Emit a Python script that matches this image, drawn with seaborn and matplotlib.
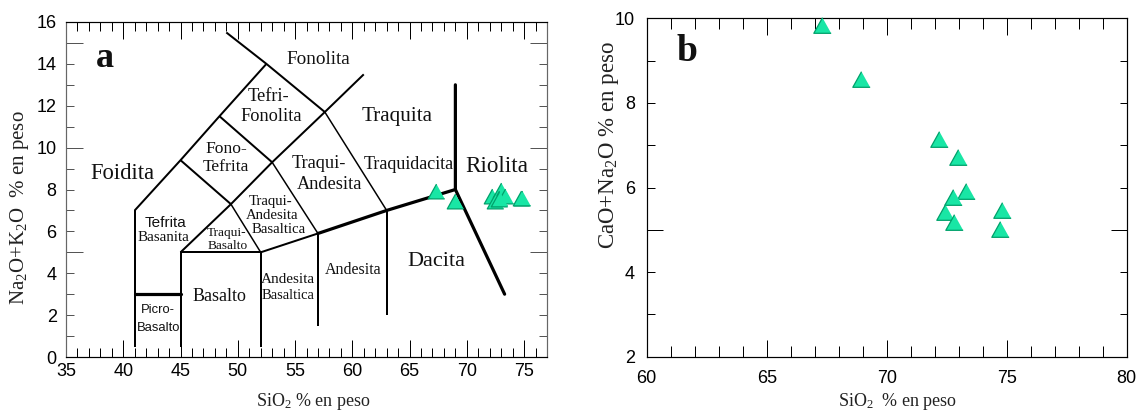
import matplotlib
matplotlib.use("Agg")
import matplotlib.pyplot as plt
import seaborn as sns
import pandas as pd
from matplotlib.ticker import MultipleLocator, FixedLocator, FuncFormatter

# ---------------- data ----------------
sio2 = [67.32, 68.93, 72.19, 72.98, 73.30, 72.78, 72.43, 72.82, 74.82, 74.73]
na2o_k2o = [7.94, 7.46, 7.70, 7.96, 7.70, 7.60, 7.45, 7.55, 7.58, 7.61]
cao_na2o = [9.85, 8.56, 7.14, 6.71, 5.92, 5.78, 5.43, 5.19, 5.47, 5.01]

# TAS field boundaries (SiO2, Na2O+K2O)
tas_medium = [
    [(49.0, 15.5), (52.5, 14.0), (57.6, 11.7)],
    [(41.0, 7.0), (45.0, 9.4), (48.4, 11.5), (52.5, 14.0)],
    [(45.0, 5.0), (49.4, 7.3), (53.0, 9.3), (57.6, 11.7), (61.0, 13.5)],
    [(45.0, 9.4), (49.4, 7.3)],
    [(48.4, 11.5), (53.0, 9.3)],
    [(41.0, 0.5), (41.0, 7.0)],
    [(45.0, 0.5), (45.0, 5.0), (52.0, 5.0), (52.0, 0.5)],
    [(52.0, 5.0), (57.0, 5.9)],
    [(57.0, 5.9), (57.0, 1.5)],
    [(63.0, 7.0), (63.0, 2.0)],
]
tas_thin = [
    [(57.6, 11.7), (63.0, 7.0)],
    [(49.4, 7.3), (52.0, 5.0)],
    [(53.0, 9.3), (57.0, 5.9)],
]
tas_thick = [
    [(57.0, 5.9), (63.0, 7.0), (69.0, 8.0)],
    [(69.0, 13.0), (69.0, 8.0), (73.3, 3.0)],
    [(41.0, 3.0), (45.0, 3.0)],
]

field_text = ["Fonolita", "Tefri-", "Fonolita", "Fono-", "Tefrita", "Traqui-", "Andesita",
              "Traquita", "Traquidacita", "Riolita", "Foidita",
              "Traqui-", "Andesita", "Basaltica", "Tefrita", "Basanita",
              "Traqui-", "Basalto", "Picro-", "Basalto", "Basalto",
              "Andesita", "Basaltica", "Andesita", "Dacita"]
field_x = [57.03, 52.70, 52.95, 49.03, 48.93, 57.11, 57.99,
           63.95, 64.97, 72.61, 39.96,
           52.82, 52.97, 53.60, 43.65, 43.50,
           49.03, 49.09, 42.99, 43.06, 48.42,
           54.35, 54.42, 60.09, 67.30]
field_y = [14.20, 12.43, 11.47, 9.92, 9.09, 9.25, 8.25,
           11.47, 9.20, 9.09, 8.77,
           7.42, 6.78, 6.10, 6.41, 5.72,
           5.94, 5.30, 2.24, 1.37, 2.91,
           3.72, 2.93, 4.15, 4.58]
field_size = [13.8, 13.2, 13.2, 12.6, 12.6, 13.2, 13.2,
              15.2, 13.0, 16.7, 16.3,
              10.6, 10.6, 10.6, 11.0, 10.8,
              9.6, 9.6, 9.4, 9.4, 13.0,
              11.0, 10.5, 11.5, 16.0]
field_font = ["serif"] * 14 + ["sans", "serif", "serif", "serif", "sans", "sans",
                               "serif", "serif", "serif", "serif", "serif"]

# ---------------- style ----------------
sns.set_theme(style="ticks")
SERIF = ["Liberation Serif", "DejaVu Serif"]
SANS = ["Liberation Sans", "DejaVu Sans"]
plt.rcParams["font.family"] = SANS
plt.rcParams["mathtext.default"] = "regular"

FILL = "#19E6A5"
EDGE = "#00A06A"
tri = [(0, 0.9), (-1, -0.9), (1, -0.9)]

fig = plt.figure(figsize=(11.46, 4.12), dpi=100)
fig.patch.set_facecolor("white")
axA = fig.add_axes([66 / 1146, 55 / 412, 481 / 1146, 335 / 412])
axB = fig.add_axes([646.7 / 1146, 55.3 / 412, 480 / 1146, 338.4 / 412])

PX = 0.72  # points per pixel at 100 dpi

def even_fmt(v, pos):
    iv = int(round(v))
    return str(iv) if iv % 2 == 0 else ""

# ---------------- panel a ----------------
for seg in tas_medium:
    xs, ys = zip(*seg)
    axA.plot(xs, ys, color="black", lw=2.0 * PX, solid_capstyle="butt", zorder=2)
for seg in tas_thin:
    xs, ys = zip(*seg)
    axA.plot(xs, ys, color="black", lw=1.5 * PX, zorder=2)
for seg in tas_thick:
    xs, ys = zip(*seg)
    axA.plot(xs, ys, color="black", lw=3.2 * PX, zorder=2)

sns.scatterplot(x=sio2, y=na2o_k2o, ax=axA, marker=tri, s=140, color=FILL,
                edgecolor=EDGE, linewidth=0.9, zorder=5, legend=False)

for t, x, y, sz, f in zip(field_text, field_x, field_y, field_size, field_font):
    axA.text(x, y, t, ha="center", va="center", fontsize=sz,
             family=SERIF if f == "serif" else SANS, color="#111111", zorder=3)

axA.text(38.41, 14.28, "a", ha="center", va="center", fontsize=26,
         fontweight="bold", family=SERIF, color="#111111")

axA.set_xlim(35, 77)
axA.set_ylim(0, 16)
axA.xaxis.set_major_locator(MultipleLocator(5))
axA.xaxis.set_minor_locator(MultipleLocator(1))
axA.yaxis.set_major_locator(MultipleLocator(1))
axA.yaxis.set_major_formatter(FuncFormatter(even_fmt))
axA.yaxis.set_minor_locator(FixedLocator([5, 10, 15]))
axA.yaxis.remove_overlapping_locs = False
axA.tick_params(axis="x", which="major", direction="in", length=17 * PX, width=1 * PX,
                top=True, bottom=True, labelsize=13, pad=4.1, colors="black")
axA.tick_params(axis="x", which="minor", direction="in", length=9 * PX, width=1 * PX,
                top=True, bottom=True, colors="black")
axA.tick_params(axis="y", which="major", direction="in", length=8 * PX, width=1 * PX,
                left=True, right=True, labelsize=13, pad=6.7, color="#555555",
                labelcolor="black")
axA.tick_params(axis="y", which="minor", direction="in", length=17 * PX, width=1 * PX,
                left=True, right=True, color="#555555")
for s in ["left", "right"]:
    axA.spines[s].set_color("#666666")
for s in ["top", "bottom"]:
    axA.spines[s].set_color("black")
for s in axA.spines.values():
    s.set_linewidth(1.2 * PX)
axA.set_xlabel("")
axA.set_ylabel("")

# ---------------- panel b ----------------
sns.scatterplot(x=sio2, y=cao_na2o, ax=axB, marker=tri, s=156, color=FILL,
                edgecolor=EDGE, linewidth=0.9, zorder=5, legend=False, clip_on=False)
axB.text(61.67, 9.21, "b", ha="center", va="center", fontsize=27,
         fontweight="bold", family=SERIF, color="#111111")
axB.set_xlim(60, 80)
axB.set_ylim(2, 10)
axB.xaxis.set_major_locator(MultipleLocator(5))
axB.xaxis.set_minor_locator(MultipleLocator(1))
axB.yaxis.set_major_locator(MultipleLocator(1))
axB.yaxis.set_major_formatter(FuncFormatter(even_fmt))
axB.yaxis.set_minor_locator(FixedLocator([5, 10]))
axB.yaxis.remove_overlapping_locs = False
axB.tick_params(axis="x", which="major", direction="in", length=17 * PX, width=1 * PX,
                top=True, bottom=True, labelsize=13, pad=9.6, colors="black")
axB.tick_params(axis="x", which="minor", direction="in", length=11 * PX, width=1 * PX,
                top=True, bottom=True, colors="black")
axB.tick_params(axis="y", which="major", direction="in", length=7.5 * PX, width=1 * PX,
                left=True, right=True, labelsize=13, pad=8.4, colors="black")
axB.tick_params(axis="y", which="minor", direction="in", length=16 * PX, width=1 * PX,
                left=True, right=True, colors="black")
for s in axB.spines.values():
    s.set_color("black")
    s.set_linewidth(1.2 * PX)
axB.set_xlabel("")
axB.set_ylabel("")

# ---------------- axis titles ----------------
fig.text(20 / 1146, 1 - 208 / 412, "Na$_2$O+K$_2$O  % en peso", rotation=90,
         ha="center", va="center", fontsize=15, family=SERIF, color="#222222")
fig.text(313 / 1146, 1 - 401.7 / 412, "SiO$_2$ % en peso",
         ha="center", va="center", fontsize=13, family=SERIF, color="#222222")
fig.text(609 / 1146, 1 - 145 / 412, "CaO+Na$_2$O % en peso", rotation=90,
         ha="center", va="center", fontsize=16.5, family=SERIF, color="#222222")
fig.text(897.7 / 1146, 1 - 401.7 / 412, "SiO$_2$  % en peso",
         ha="center", va="center", fontsize=13, family=SERIF, color="#222222")

fig.savefig("out.png", dpi=100, facecolor="white")
